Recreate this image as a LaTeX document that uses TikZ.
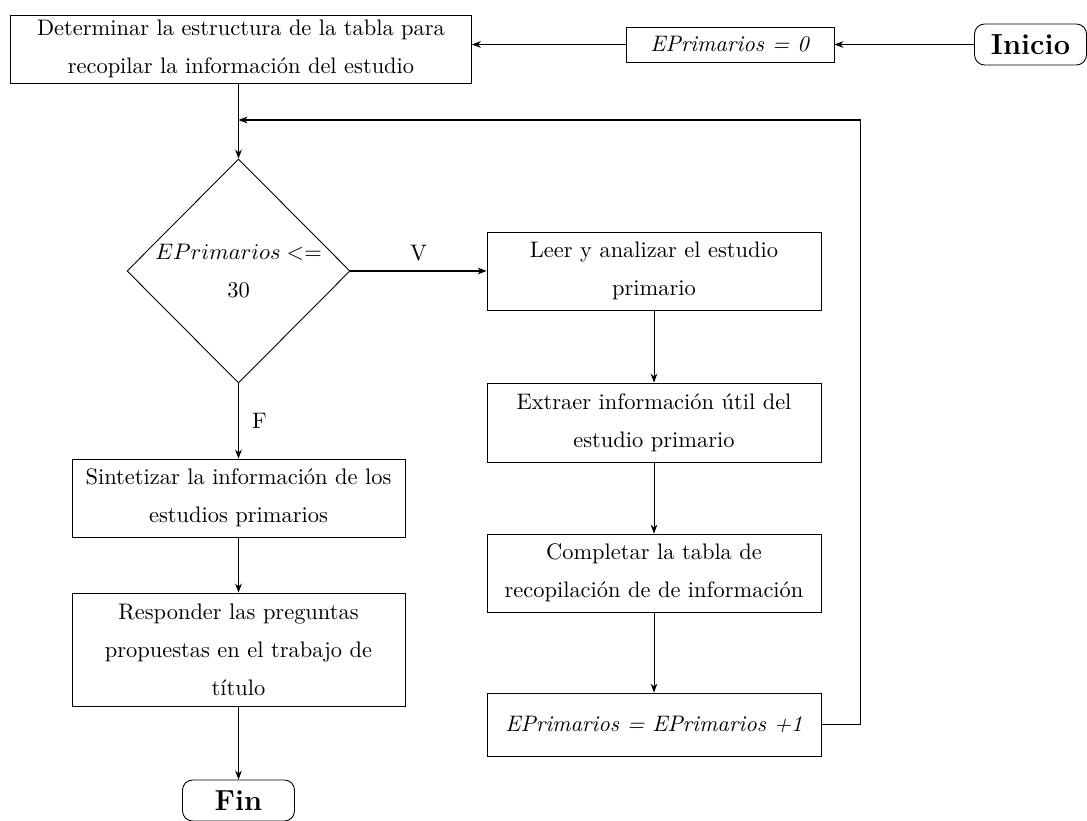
\documentclass[tikz,border=0pt]{standalone}
\usetikzlibrary{shapes.geometric,arrows.meta}
\def\pxu{0.4455pt}
\tikzset{
  txt/.style={font=\fontsize{10}{16.9}\selectfont},
  procbox/.style={draw, txt, align=center, inner sep=0pt,
    minimum width=#1*\pxu},
  termbox/.style={draw, rounded corners=4.5pt, inner sep=0pt,
    minimum width=112*\pxu, minimum height=41*\pxu,
    font=\fontsize{12.9}{15}\selectfont\bfseries},
  decision/.style={draw, diamond, aspect=1, txt, align=center, inner sep=0pt,
    minimum width=223*\pxu, minimum height=224*\pxu},
  flow/.style={-{Stealth[length=4pt,width=3pt]}, line width=0.45pt},
  plain/.style={line width=0.45pt}
}
\begin{document}
\begin{tikzpicture}[x=0.4455pt,y=-0.4455pt]
\useasboundingbox (0,0) rectangle (1087,820);

% top row
\node[termbox] (ini) at (1030.5,44.5) {Inicio};
\node[procbox=208, minimum height=35*\pxu] (ep0) at (730,44.5) {\textit{EPrimarios = 0}};
\node[procbox=461, minimum height=68*\pxu] (b1) at (241,49)
  {Determinar la estructura de la tabla para\\recopilar la información del estudio};

% decision
\node[decision] (dia) at (238.5,271) {$EPrimarios <=$\\30};

% right column
\node[procbox=334, minimum height=78*\pxu] (leer) at (654,271)
  {Leer y analizar el estudio\\primario};
\node[procbox=334, minimum height=79*\pxu] (extr) at (654,422.5)
  {Extraer información útil del\\estudio primario};
\node[procbox=334, minimum height=78*\pxu] (comp) at (654,573)
  {Completar la tabla de\\recopilación de de información};
\node[procbox=334, minimum height=63*\pxu] (inc) at (654,724.5)
  {\textit{EPrimarios = EPrimarios +1}};

% left column
\node[procbox=333, minimum height=78*\pxu] (sint) at (238.5,498)
  {Sintetizar la información de los\\estudios primarios};
\node[procbox=333, minimum height=113*\pxu] (resp) at (238.5,649.5)
  {Responder las preguntas\\propuestas en el trabajo de\\título};
\node[termbox] (fin) at (238.5,800.5) {Fin};

% loop corner points
\coordinate (loopR) at (860,120);
\coordinate (join) at (238.5,120);

% connectors
\draw[flow] (ini.west) -- (ep0.east);
\draw[flow] (ep0.west) -- (ep0.west -| b1.east);
\draw[plain] (dia.north |- b1.south) -- (join);
\draw[flow] (join) -- (dia.north);
\draw[flow] (dia.east) -- node[txt, above=1pt] {V} (leer.west);
\draw[flow] (leer) -- (extr);
\draw[flow] (extr) -- (comp);
\draw[flow] (comp) -- (inc);
\draw[flow] (inc.east) -| (loopR) -- (join);
\draw[flow] (dia.south) -- node[txt, right=2.5pt] {F} (sint.north);
\draw[flow] (sint) -- (resp);
\draw[flow] (resp) -- (fin);
\end{tikzpicture}
\end{document}
